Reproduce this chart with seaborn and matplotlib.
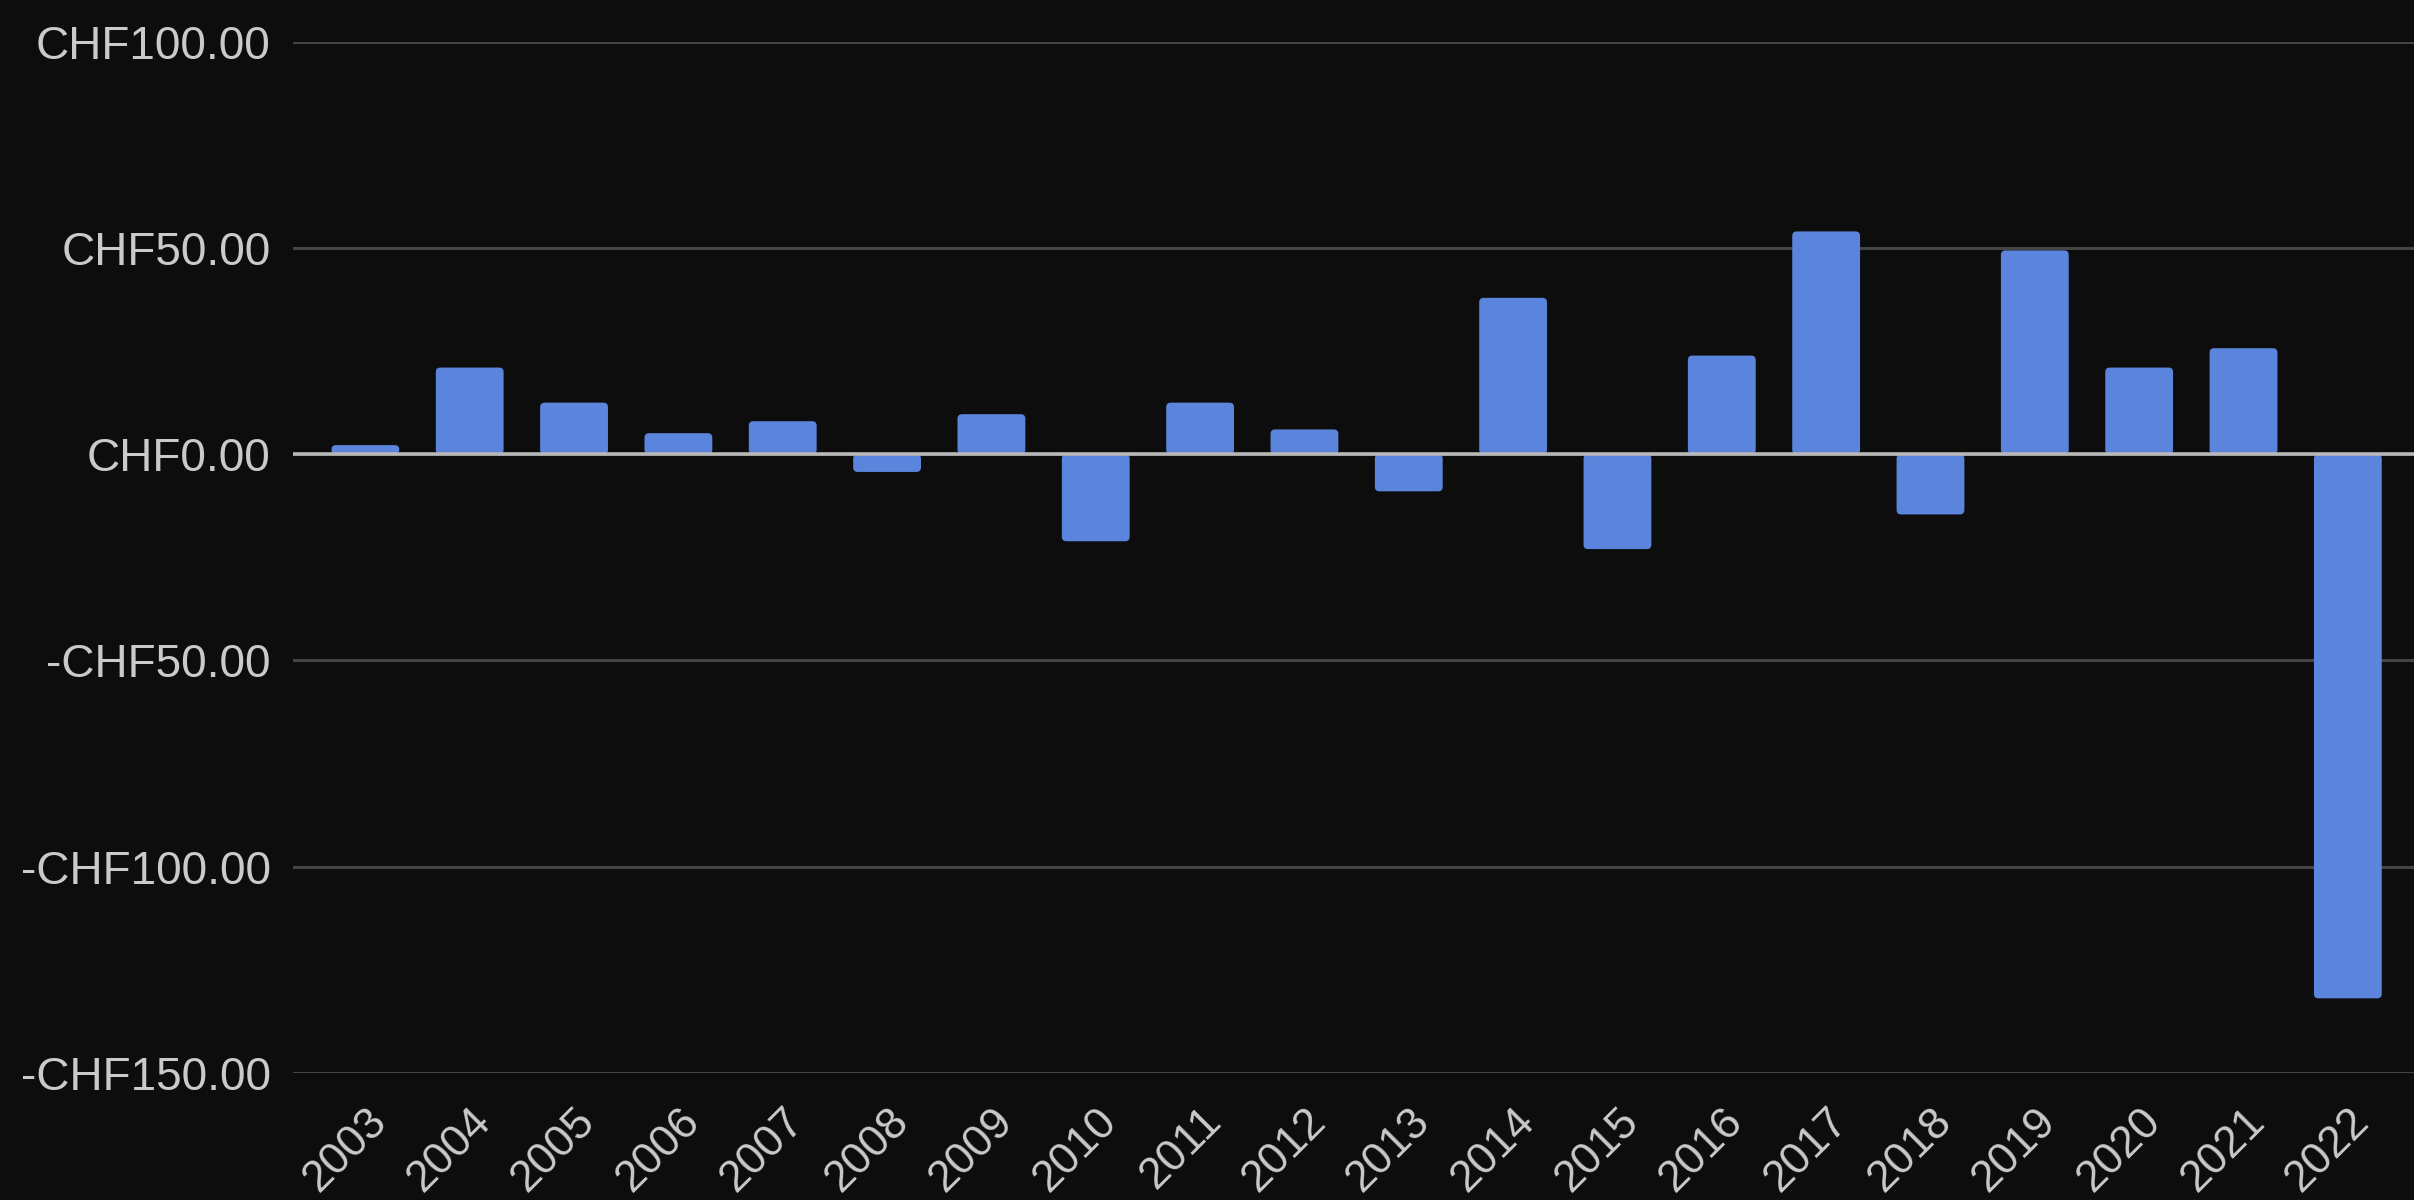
import matplotlib
matplotlib.use("Agg")
import matplotlib.pyplot as plt
import matplotlib.transforms as mtransforms
from matplotlib.patches import FancyBboxPatch
import seaborn as sns
import pandas as pd

# Yearly change in CHF
years = [str(y) for y in range(2003, 2023)]
changes = [2.2, 21.0, 12.5, 5.1, 8.0, -4.3, 9.7, -21.1, 12.5, 6.0,
           -9.0, 37.9, -23.0, 23.9, 54.0, -14.6, 49.4, 21.0, 25.7, -131.9]
y_ticks = [100, 50, 0, -50, -100, -150]
y_tick_labels = ["CHF100.00", "CHF50.00", "CHF0.00",
                 "-CHF50.00", "-CHF100.00", "-CHF150.00"]

df = pd.DataFrame({"year": years, "change": changes})

BG = "#0d0d0d"
BAR = "#5b84dc"
TXT = "#cacaca"

sns.set_theme(style="dark")
plt.rcParams["font.family"] = ["Liberation Sans", "DejaVu Sans"]

fig = plt.figure(figsize=(24.14, 12.0), dpi=100, facecolor=BG)
ax = fig.add_axes([0.1214, 0.1058, 0.8786, 0.8595])
ax.set_facecolor(BG)

sns.barplot(data=df, x="year", y="change", color=BAR, saturation=1,
            width=0.65, linewidth=0, ax=ax, zorder=3)

XMIN, XMAX = -0.693, 19.634
YMIN, YMAX = -150, 100
ax.set_ylim(YMIN, YMAX)
ax.set_xlim(XMIN, XMAX)

# Swap the plain rectangles for slightly rounded ones
bbox = ax.get_position()
px_w = bbox.width * fig.get_figwidth() * fig.dpi
px_h = bbox.height * fig.get_figheight() * fig.dpi
radius_px = 4.5
rx = radius_px * (XMAX - XMIN) / px_w
ry = radius_px * (YMAX - YMIN) / px_h
for p in list(ax.patches):
    x0, y0 = p.get_x(), p.get_y()
    w, h = p.get_width(), p.get_height()
    if h < 0:
        y0, h = y0 + h, -h
    rounded = FancyBboxPatch((x0, y0), w, h,
                             boxstyle=f"round,pad=0,rounding_size={rx}",
                             mutation_aspect=ry / rx,
                             facecolor=BAR, edgecolor="none", zorder=3)
    p.remove()
    ax.add_patch(rounded)

ax.set_yticks(y_ticks)
ax.set_yticklabels(y_tick_labels)
ax.grid(axis="y", color="#444444", linewidth=2.2, zorder=0)
ax.grid(axis="x", visible=False)
ax.axhline(0, color="#b8b8b8", linewidth=2.6, zorder=4)

for s in ax.spines.values():
    s.set_visible(False)

ax.set_xlabel("")
ax.set_ylabel("")
ax.tick_params(axis="y", length=0, pad=16, labelsize=33, labelcolor=TXT)
ax.tick_params(axis="x", length=0, pad=30, labelsize=32, labelcolor=TXT)

offset = mtransforms.ScaledTranslation(0.15, 0, fig.dpi_scale_trans)
for lbl in ax.get_xticklabels():
    lbl.set_rotation(45)
    lbl.set_ha("right")
    lbl.set_va("center")
    lbl.set_rotation_mode("anchor")
    lbl.set_transform(lbl.get_transform() + offset)

fig.savefig("out.png", dpi=100, facecolor=BG)
